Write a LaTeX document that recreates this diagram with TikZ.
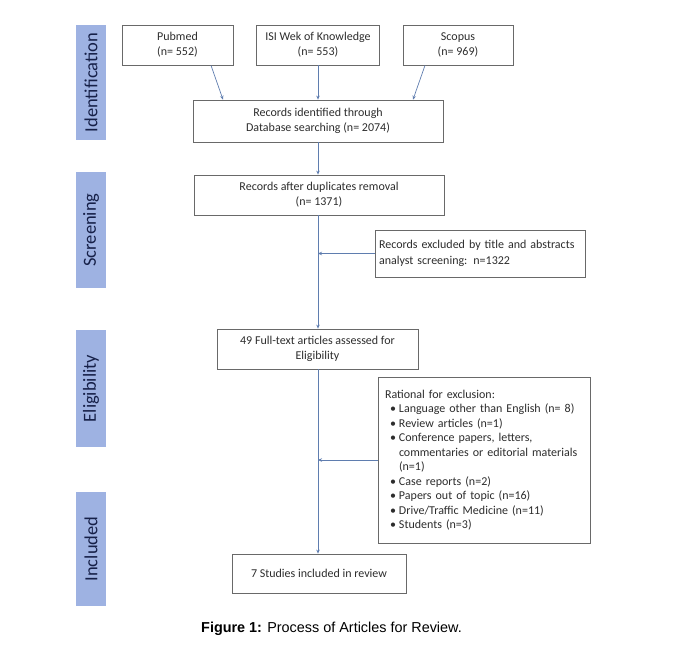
\documentclass[tikz,border=0pt]{standalone}
\usepackage{fontspec}
\setmainfont{Carlito}
\newfontfamily\arialfont{Liberation Sans}
\usetikzlibrary{arrows.meta}
\definecolor{barblue}{RGB}{158,178,226}
\definecolor{bartext}{RGB}{22,32,72}
\definecolor{lineblue}{RGB}{95,125,175}
\definecolor{boxgray}{RGB}{105,105,105}
\definecolor{txt}{RGB}{45,45,45}
\newcommand{\bitem}[1]{\makebox[14pt][l]{\hspace{5pt}\textbullet}#1}
\newcommand{\bcont}[1]{\hspace*{14pt}#1}
\begin{document}
\begin{tikzpicture}[x=1pt,y=-1pt,
  box/.style={draw=boxgray, line width=0.8pt, fill=white, align=center, text=txt,
    font=\fontsize{12}{15}\selectfont, inner sep=0pt, anchor=center},
  phase/.style={fill=barblue, text=bartext, rotate=90, font=\fontsize{18.5}{20}\selectfont,
    inner sep=0pt, anchor=center, minimum height=30pt},
  arr/.style={draw=lineblue, line width=0.7pt, -{Stealth[length=4pt,width=3.5pt]}}]
\useasboundingbox (0,0) rectangle (684,664);
% phase bars
\node[phase, minimum width=115pt] (pid) at (91,82.5) {Identification};
\node[phase, minimum width=116pt] (psc) at (91,230) {Screening};
\node[phase, minimum width=117pt] (pel) at (91,388.5) {Eligibility};
\node[phase, minimum width=114pt] (pin) at (91,549) {Included};
% boxes
\node[box, minimum width=111pt, minimum height=40pt] (pub) at (177.5,45) {Pubmed\\(n= 552)};
\node[box, minimum width=123pt, minimum height=40pt] (isi) at (318,45) {ISI Wek of Knowledge\\(n= 553)};
\node[box, minimum width=110pt, minimum height=40pt] (sco) at (458,45) {Scopus\\(n= 969)};
\node[box, minimum width=250pt, minimum height=42pt] (rec) at (318,121) {Records identified through\\Database searching (n= 2074)};
\node[box, minimum width=250pt, minimum height=40pt] (dup) at (319,195) {Records after duplicates removal\\(n= 1371)};
\node[box, minimum width=210pt, minimum height=47pt, align=left, text width=202pt, inner xsep=4pt,
  font=\fontsize{12}{16.5}\selectfont] (exc) at (480,253.5) {\mbox{Records excluded by title and abstracts}\\analyst screening: n=1322};
\node[box, minimum width=201pt, minimum height=40pt] (full) at (317.5,349) {49 Full-text articles assessed for\\Eligibility};
\node[box, minimum width=212pt, minimum height=166pt, align=left, text width=198pt, inner xsep=7pt,
  font=\fontsize{12}{14.5}\selectfont] (rat) at (484,460) {Rational for exclusion:\\
\bitem{Language other than English (n= 8)}\\
\bitem{Review articles (n=1)}\\
\bitem{Conference papers, letters,}\\
\bcont{commentaries or editorial materials}\\
\bcont{(n=1)}\\
\bitem{Case reports (n=2)}\\
\bitem{Papers out of topic (n=16)}\\
\bitem{Drive/Traffic Medicine (n=11)}\\
\bitem{Students (n=3)}};
\node[box, minimum width=174pt, minimum height=39pt] (inc) at (319,573.5) {7 Studies included in review};
% connectors
\draw[arr] ([xshift=33.5pt]pub.south) -- ([xshift=-95pt]rec.north);
\draw[arr] (isi.south) -- (rec.north);
\draw[arr] ([xshift=-33pt]sco.south) -- ([xshift=95pt]rec.north);
\draw[arr] (rec.south) -- (rec.south |- dup.north);
\draw[arr] (rec.south |- dup.south) -- (rec.south |- full.north);
\draw[arr] (exc.west) -- (exc.west -| rec.south);
\draw[arr] (rec.south |- full.south) -- (rec.south |- inc.north);
\draw[arr] (rat.west) -- (rat.west -| rec.south);
% caption
\node[anchor=base, inner sep=0pt, font=\arialfont\fontsize{14.4}{17}\selectfont] (cap) at (331.5,632)
  {\textbf{Figure 1:} Process of Articles for Review.};
\end{tikzpicture}
\end{document}
